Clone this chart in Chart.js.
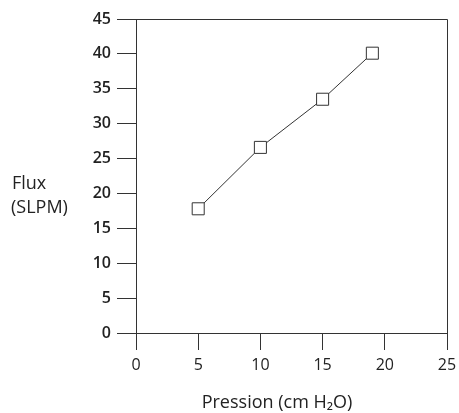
<!DOCTYPE html>
<html>
<head>
<meta charset="utf-8">
<script src="https://cdn.jsdelivr.net/npm/chart.js@4"></script>
<style>
  html, body { margin: 0; padding: 0; background: #fff; }
  #wrap { width: 459px; height: 413px; }
</style>
</head>
<body>
<div id="wrap"><canvas id="fluxChart"></canvas></div>
<script>
// pressure (cm H2O) and measured flow (SLPM)
var pression = [5, 10, 15, 19];
var flux = [17.8, 26.6, 33.5, 40.1];
var yTitle = ["Flux", "(SLPM)"];
var xTitle = "Pression (cm H\u2082O)";

var points = pression.map(function (p, i) { return { x: p, y: flux[i] }; });

// frame around the plot area plus the two axis titles
var framePlugin = {
    id: 'frame',
    afterDraw: function (chart) {
        var a = chart.chartArea, ctx = chart.ctx;
        ctx.save();
        ctx.strokeStyle = '#333';
        ctx.lineWidth = 1;
        ctx.beginPath();
        ctx.moveTo(a.left, a.top + 0.5);
        ctx.lineTo(a.right + 0.5, a.top + 0.5);
        ctx.lineTo(a.right + 0.5, a.bottom);
        ctx.stroke();
        ctx.fillStyle = '#222';
        ctx.font = '18px "Open Sans"';
        ctx.textBaseline = 'middle';
        ctx.fillText(yTitle[0], 12, 184);
        ctx.fillText(yTitle[1], 11, 208);
        ctx.textAlign = 'center';
        ctx.fillText(xTitle, 277, 403);
        ctx.restore();
    }
};

var ctx = document.getElementById('fluxChart').getContext('2d');
var myChart = new Chart(ctx, {
    type: 'scatter',
    data: {
        datasets: [{
            data: points,
            showLine: true,
            borderColor: '#333',
            borderWidth: 1,
            pointStyle: 'rect',
            pointRadius: 8.5,
            pointHoverRadius: 8.5,
            pointBackgroundColor: '#fff',
            pointBorderColor: '#333',
            pointBorderWidth: 1
        }]
    },
    options: {
        responsive: true,
        maintainAspectRatio: false,
        animation: false,
        layout: { padding: { top: 19, right: 12, left: 0, bottom: 0 } },
        plugins: { legend: { display: false }, tooltip: { enabled: false } },
        scales: {
            x: {
                type: 'linear',
                min: 0, max: 25,
                afterFit: function (s) { s.height = 80; s.paddingRight = 0; s.paddingLeft = 0; },
                ticks: { stepSize: 5, color: '#222', padding: 6, font: { family: 'Open Sans', size: 16 } },
                grid: { drawOnChartArea: false, tickLength: 17, tickColor: '#333' },
                border: { color: '#333', width: 1 }
            },
            y: {
                min: 0, max: 45,
                afterFit: function (s) { s.width = 136; },
                ticks: { stepSize: 5, color: '#222', padding: 6, font: { family: 'Open Sans', size: 16, weight: '600' } },
                grid: { drawOnChartArea: false, tickLength: 19, tickColor: '#333' },
                border: { color: '#333', width: 1 }
            }
        }
    },
    plugins: [framePlugin]
});
</script>
</body>
</html>
